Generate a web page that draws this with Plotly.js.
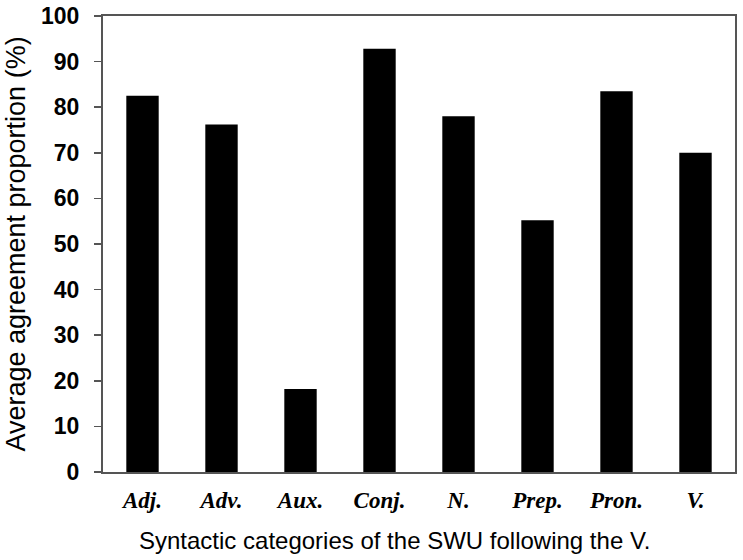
<!DOCTYPE html>
<html>
<head>
<meta charset="utf-8">
<script src="https://cdn.plot.ly/plotly-3.0.1.min.js"></script>
<style>
  html, body { margin: 0; padding: 0; background: #fff; }
  #chart { width: 743px; height: 560px; }
</style>
</head>
<body>
<div id="chart"></div>
<script>
// syntactic categories of the SWU following the V.
const categories = ['Adj.', 'Adv.', 'Aux.', 'Conj.', 'N.', 'Prep.', 'Pron.', 'V.'];
const agreement = [82.5, 76.2, 18.2, 92.8, 78.0, 55.2, 83.5, 70.0];
const yTicks = [0, 10, 20, 30, 40, 50, 60, 70, 80, 90, 100];

const trace = {
    type: 'bar',
    x: categories,
    y: agreement,
    marker: {color: '#000'},
    hoverinfo: 'x+y'
};

const sans = '"Liberation Sans", Arial, sans-serif';

const layout = {
    width: 743,
    height: 560,
    margin: {l: 103, r: 8, t: 16, b: 88},
    paper_bgcolor: '#fff',
    plot_bgcolor: '#fff',
    bargap: 0.59,
    showlegend: false,
    xaxis: {
        type: 'category',
        tickfont: {family: '"Liberation Serif", "Times New Roman", serif', size: 23, color: '#000', weight: 'bold', style: 'italic'},
        ticks: '',
        ticklen: 0,
        ticklabelstandoff: 6,
        showline: true,
        linecolor: '#555',
        linewidth: 2,
        mirror: true
    },
    yaxis: {
        range: [0, 100],
        tickvals: yTicks,
        ticks: 'outside',
        ticklen: 7,
        tickwidth: 1.5,
        tickcolor: '#555',
        ticklabelstandoff: 10,
        showgrid: false,
        zeroline: false,
        showline: true,
        linecolor: '#555',
        linewidth: 2,
        mirror: true,
        tickfont: {family: sans, size: 23, color: '#000', weight: 'bold'},
        title: {
            text: 'Average agreement proportion (%)',
            font: {family: sans, size: 27, color: '#000'},
            standoff: 8
        }
    },
    // x title sits a little left of the plot centre in the original
    annotations: [{
        text: 'Syntactic categories of the SWU following the V.',
        xref: 'paper', yref: 'paper',
        x: 0.462, y: -0.151,
        xanchor: 'center', yanchor: 'middle',
        showarrow: false,
        font: {family: sans, size: 24, color: '#000'}
    }]
};

Plotly.newPlot('chart', [trace], layout, {staticPlot: true});
</script>
</body>
</html>
